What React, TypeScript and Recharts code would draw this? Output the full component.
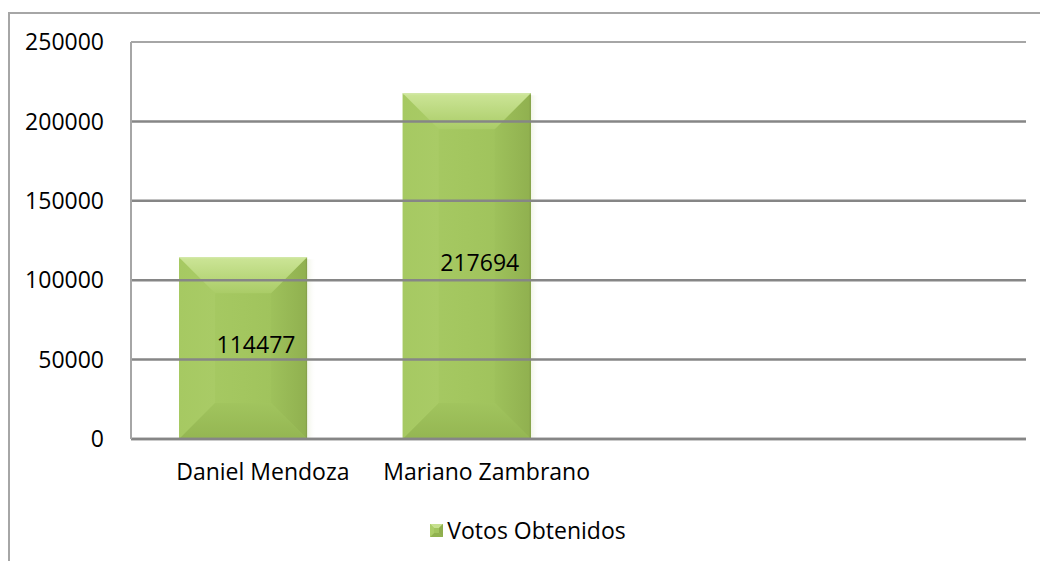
import React from "react";
import { BarChart, Bar, XAxis, YAxis, ReferenceLine, Legend, LabelList } from "recharts";

const categories = ["Daniel Mendoza", "Mariano Zambrano", "", ""];
const votes = [114477, 217694, null, null];
const yTicks = [0, 50000, 100000, 150000, 200000, 250000];
const seriesName = "Votos Obtenidos";

const data = categories.map((name, i) => ({ name, votos: votes[i] }));

const FONT = "'Open Sans', sans-serif";
const FS = 23;

const BevelBar = (props: any) => {
  const { x, y, width: w, height: h } = props;
  if (!h || h <= 0) return null;
  const b = Math.min(36, h / 2, w / 2);
  return (
    <g>
      <rect x={x + w} y={y + 2} width={9} height={h - 2} fill="url(#shadowGrad)" />
      <rect x={x} y={y} width={w} height={h} fill="url(#faceGrad)" />
      <polygon points={`${x},${y} ${x + b},${y + b} ${x + b},${y + h - b} ${x},${y + h}`} fill="url(#leftGrad)" />
      <polygon points={`${x + w},${y} ${x + w - b},${y + b} ${x + w - b},${y + h - b} ${x + w},${y + h}`} fill="url(#rightGrad)" />
      <polygon points={`${x},${y} ${x + w},${y} ${x + w - b},${y + b} ${x + b},${y + b}`} fill="url(#topGrad)" />
      <polygon points={`${x},${y + h} ${x + w},${y + h} ${x + w - b},${y + h - b} ${x + b},${y + h - b}`} fill="url(#botGrad)" />
      <line x1={x + w - 0.5} y1={y} x2={x + w - 0.5} y2={y + h} stroke="#86a24a" strokeWidth={1.2} />
      <line x1={x} y1={y + 0.5} x2={x + w} y2={y + 0.5} stroke="#d6eaae" strokeWidth={1} />
    </g>
  );
};

const LegendContent = () => (
  <div
    style={{
      height: 62,
      display: "flex",
      alignItems: "center",
      justifyContent: "center",
      paddingLeft: 20,
      boxSizing: "border-box",
      fontFamily: FONT,
      fontSize: FS,
      color: "#000",
    }}
  >
    <svg width={13} height={13} style={{ marginRight: 4 }}>
      <rect x={0} y={0} width={13} height={13} fill="#a2c55f" />
      <polygon points="0,0 13,0 9,4 4,4" fill="#c6e08f" />
      <polygon points="0,13 13,13 9,9 4,9" fill="#90b24f" />
      <polygon points="13,0 13,13 9,9 9,4" fill="#8fae4e" />
      <polygon points="0,0 0,13 4,9 4,4" fill="#abcd68" />
    </svg>
    <span>{seriesName}</span>
  </div>
);

const CatTick = (props: any) => {
  const { x, y, payload } = props;
  return (
    <text x={x + 20} y={y} dy="0.71em" textAnchor="middle" fontFamily={FONT} fontSize={FS} fill="#000">
      {payload.value}
    </text>
  );
};

export default function App() {
  React.useEffect(() => {
    document.body.style.overflow = "hidden";
  }, []);
  return (
    <div
      style={{
        position: "absolute",
        left: 8,
        top: 12,
        width: 1030,
        height: 547,
        borderTop: "2px solid #a6a6a6",
        borderLeft: "2px solid #a6a6a6",
        background: "#fff",
      }}
    >
      <BarChart
        width={1030}
        height={547}
        data={data}
        margin={{ top: 28, right: 14, left: 0, bottom: 0 }}
      >
        <defs>
          <linearGradient id="faceGrad" x1="0" y1="0" x2="1" y2="0">
            <stop offset="0" stopColor="#a8cb65" />
            <stop offset="0.5" stopColor="#a3c65f" />
            <stop offset="1" stopColor="#9dc05a" />
          </linearGradient>
          <linearGradient id="topGrad" x1="0" y1="0" x2="0" y2="1">
            <stop offset="0" stopColor="#cce597" />
            <stop offset="1" stopColor="#aacc67" />
          </linearGradient>
          <linearGradient id="botGrad" x1="0" y1="0" x2="0" y2="1">
            <stop offset="0" stopColor="#a1c45e" />
            <stop offset="1" stopColor="#94b652" />
          </linearGradient>
          <linearGradient id="leftGrad" x1="0" y1="0" x2="1" y2="0">
            <stop offset="0" stopColor="#a6c962" />
            <stop offset="1" stopColor="#a9cb66" />
          </linearGradient>
          <linearGradient id="rightGrad" x1="0" y1="0" x2="1" y2="0">
            <stop offset="0" stopColor="#9ec15b" />
            <stop offset="1" stopColor="#90b04f" />
          </linearGradient>
          <linearGradient id="shadowGrad" x1="0" y1="0" x2="1" y2="0">
            <stop offset="0" stopColor="#eef2e2" stopOpacity={0.9} />
            <stop offset="1" stopColor="#ffffff" stopOpacity={0} />
          </linearGradient>
        </defs>
        <XAxis
          dataKey="name"
          height={60}
          tickLine={false}
          tickSize={0}
          tickMargin={25}
          axisLine={{ stroke: "#868686", strokeWidth: 2.5 }}
          tick={<CatTick />}
          interval={0}
        />
        <YAxis
          width={121}
          domain={[0, 250000]}
          ticks={yTicks}
          tickLine={false}
          tickSize={0}
          tickMargin={27}
          axisLine={{ stroke: "#a6a6a6", strokeWidth: 2 }}
          tick={{ fontFamily: FONT, fontSize: FS, fill: "#000" }}
        />
        <Legend verticalAlign="bottom" height={62} content={<LegendContent />} />
        <Bar
          dataKey="votos"
          name={seriesName}
          barSize={128}
          shape={<BevelBar />}
          isAnimationActive={false}
        >
          <LabelList
            dataKey="votos"
            position="center"
            dx={13}
            dy={-3}
            style={{ fontFamily: FONT, fontSize: FS, fill: "#000" }}
          />
        </Bar>
        {yTicks.map((t) => (
          <ReferenceLine
            key={t}
            y={t}
            stroke={t === 250000 ? "#a6a6a6" : "#868686"}
            strokeWidth={t === 250000 ? 2 : 2.5}
          />
        ))}
      </BarChart>
    </div>
  );
}
